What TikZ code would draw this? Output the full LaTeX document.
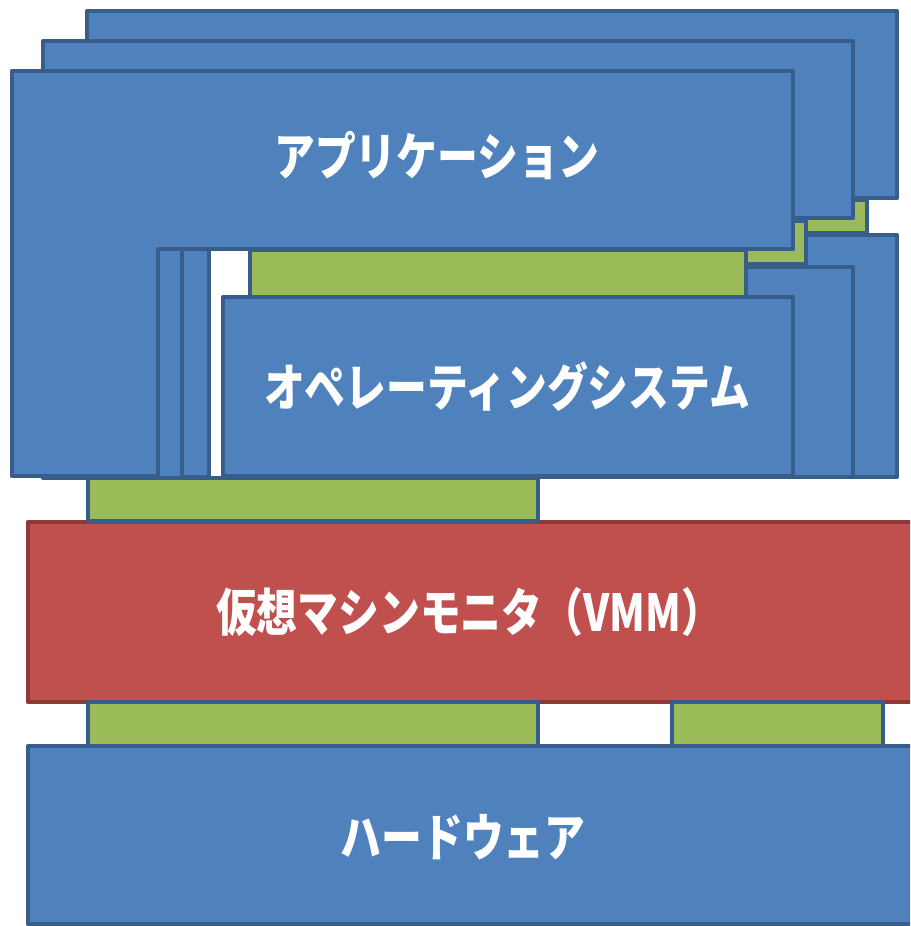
\documentclass[tikz,border=0pt]{standalone}
\usepackage{fontspec}
\newfontfamily\jp{Noto Sans CJK JP}
\usepackage{graphicx}
\definecolor{bfill}{HTML}{4F81BD}
\definecolor{bline}{HTML}{385D8A}
\definecolor{gfill}{HTML}{9BBB59}
\definecolor{rfill}{HTML}{C0504D}
\definecolor{rline}{HTML}{8C3836}
\tikzset{
  bluebox/.style={fill=bfill, draw=bline, line width=4.7pt, line join=round},
  greenbox/.style={fill=gfill, draw=bline, line width=4.7pt, line join=round},
  redbox/.style={fill=rfill, draw=rline, line width=4.7pt, line join=round},
  lbl/.style={text=white, inner sep=0pt, font=\jp\bfseries\fontsize{51}{60}\selectfont}
}
\newcommand{\sq}[1]{\scalebox{0.8}[1]{#1}}
\begin{document}
\begin{tikzpicture}[x=1pt, y=-1pt]
\useasboundingbox (0,0) rectangle (910,926);
\clip (0,0) rectangle (910,926);
% back VM
\draw[bluebox] (87,11) -- (897,11) -- (897,198) -- (209,198) -- (209,477) -- (87,477) -- cycle;
\draw[greenbox] (300,200) rectangle (867,233);
\draw[bluebox] (283,235) rectangle (897,477);
% middle VM
\draw[bluebox] (43,41) -- (853,41) -- (853,218) -- (182,218) -- (182,478) -- (43,478) -- cycle;
\draw[greenbox] (280,221) rectangle (806,264);
\draw[bluebox] (253,267) rectangle (853,477);
% front VM
\draw[bluebox] (12,71) -- (793,71) -- (793,249) -- (158,249) -- (158,476) -- (12,476) -- cycle;
\draw[greenbox] (250,250) rectangle (746,297);
\draw[bluebox] (223,297) rectangle (793,476);
% VMM
\draw[redbox] (28,522) rectangle (930,702);
\draw[greenbox] (88,478) rectangle (538,521);
% hardware
\draw[bluebox] (28,746) rectangle (930,924);
\draw[greenbox] (88,702) rectangle (538,746);
\draw[greenbox] (672,702) rectangle (883,746);
% labels
\node[lbl] (app) at (437,156) {\sq{アプリケーション}};
\node[lbl] (os) at (507,387) {\sq{オペレーティングシステム}};
\node[lbl] (vmm) at (469,612) {\sq{仮想マシンモニタ（VMM）}};
\node[lbl] (hw) at (463,837) {\sq{ハードウェア}};
\end{tikzpicture}
\end{document}
